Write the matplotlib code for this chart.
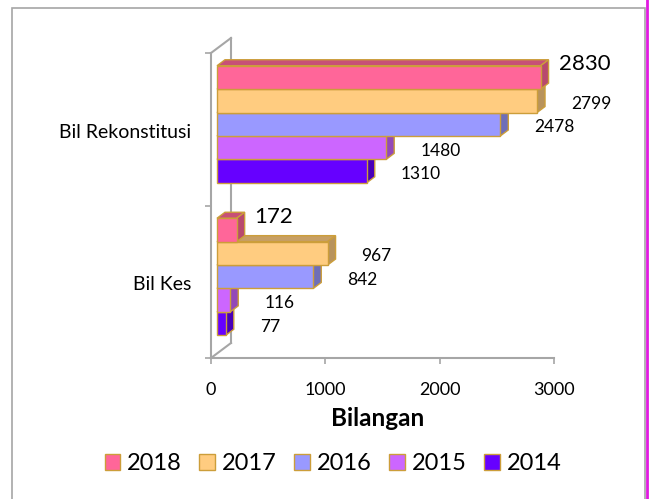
import numpy as np
import matplotlib
matplotlib.use('Agg')
import matplotlib.pyplot as plt
from matplotlib.patches import Polygon, Rectangle, Patch
from matplotlib.lines import Line2D
from matplotlib.transforms import ScaledTranslation

plt.rcParams['font.family'] = ['Lato', 'DejaVu Sans']

#%% data
categories = ['Bil Kes', 'Bil Rekonstitusi']
years = ['2018', '2017', '2016', '2015', '2014']
# values per year, order follows categories
values = {
    '2018': [172, 2830],
    '2017': [967, 2799],
    '2016': [842, 2478],
    '2015': [116, 1480],
    '2014': [77, 1310],
}
xticks = [0, 1000, 2000, 3000]
xlabel = 'Bilangan'

face = ['#FF6699', '#FFCC80', '#9999FF', '#CC66FF', '#6600FF']
edge = '#CC9E3A'
grey = '#A6A6A6'

def shade(c, f):
    r, g, b = matplotlib.colors.to_rgb(c)
    return (r*f, g*f, b*f)

#%% figure
W, H = 649, 499
fig = plt.figure(figsize=(W/100, H/100), dpi=100)
L, R, T, B = 211, 554, 53, 358
ax = fig.add_axes([L/W, 1-B/H, (R-L)/W, (B-T)/H])
ax.set_xlim(0, 3000)
ax.set_ylim(-0.5, 1.5)

ux = 3000/(R-L)      # data units per pixel
uy = 2.0/(B-T)

for s in ['top', 'right']:
    ax.spines[s].set_visible(False)
for s in ['left', 'bottom']:
    ax.spines[s].set_color(grey)
    ax.spines[s].set_linewidth(1.5)

ax.set_xticks(xticks)
ax.set_xticklabels([str(t) for t in xticks], fontsize=13)
ax.set_yticks([-0.5, 0.5, 1.5])
ax.set_yticklabels([])
ax.tick_params(axis='both', color=grey, width=1.2, length=4)
ax.tick_params(axis='x', pad=13)

# side wall (3D look)
wall = ax.transAxes + ScaledTranslation(20/100, 15/100, fig.dpi_scale_trans)
ax.plot([0, 0], [0, 1], color=grey, lw=1.5, transform=wall, clip_on=False)
for yy in [0, 1]:
    p0 = ax.transAxes.transform((0, yy))
    p1 = wall.transform((0, yy))
    inv = fig.transFigure.inverted()
    a, b = inv.transform(p0), inv.transform(p1)
    fig.add_artist(Line2D([a[0], b[0]], [a[1], b[1]], color=grey, lw=1.5))

#%% bars
fx = 6*ux
dx, dy = 8*ux, 6*uy
h = 23.4*uy
z = 3
for i in range(len(years)-1, -1, -1):
    yr = years[i]
    for c in range(len(categories)):
        v = values[yr][c]
        yc = c + 5*uy
        y0 = yc + 2.5*h - (i+1)*h
        top = Polygon([(fx, y0+h), (fx+v, y0+h), (fx+v+dx, y0+h+dy), (fx+dx, y0+h+dy)],
                      closed=True, fc=shade(face[i], 0.78), ec=edge, lw=1, zorder=z)
        side = Polygon([(fx+v, y0), (fx+v+dx, y0+dy), (fx+v+dx, y0+h+dy), (fx+v, y0+h)],
                       closed=True, fc=shade(face[i], 0.72), ec=edge, lw=1, zorder=z)
        front = Rectangle((fx, y0), v, h, fc=face[i], ec=edge, lw=1, zorder=z+0.5)
        ax.add_patch(top)
        ax.add_patch(side)
        ax.add_patch(front)
        if i == 0:
            ax.text(fx+v+dx+10*ux, y0+h/2+13*uy, str(v), fontsize=16,
                    ha='left', va='center', zorder=20, clip_on=False)
        else:
            ax.text(fx+v+dx+26*ux, y0+h/2-3*uy, str(v), fontsize=12.5,
                    ha='left', va='center', zorder=20, clip_on=False)
    z += 1

# category labels
for c, name in enumerate(categories):
    ax.text(-20*ux, c-3*uy, name, fontsize=14, ha='right', va='center')

fig.text(378/W, 1-418/H, xlabel, fontsize=17.5, fontweight='bold', ha='center', va='center')

handles = [Patch(fc=face[i], ec=edge, lw=1) for i in range(len(years))]
fig.legend(handles, years, loc='center', bbox_to_anchor=(333/W, 1-464/H), ncol=5,
           frameon=False, fontsize=17, handlelength=0.65, handleheight=0.65,
           handletextpad=0.3, columnspacing=0.75, borderpad=0)

# outer frame
fig.add_artist(Rectangle((12/W, -0.1), (645-12)/W, 1.1-8/H, transform=fig.transFigure,
                         fill=False, ec=grey, lw=1.2))
fig.add_artist(Line2D([647/W, 647/W], [0, 1], color='#E11BE1', lw=2))

fig.savefig('out.png', dpi=100)
